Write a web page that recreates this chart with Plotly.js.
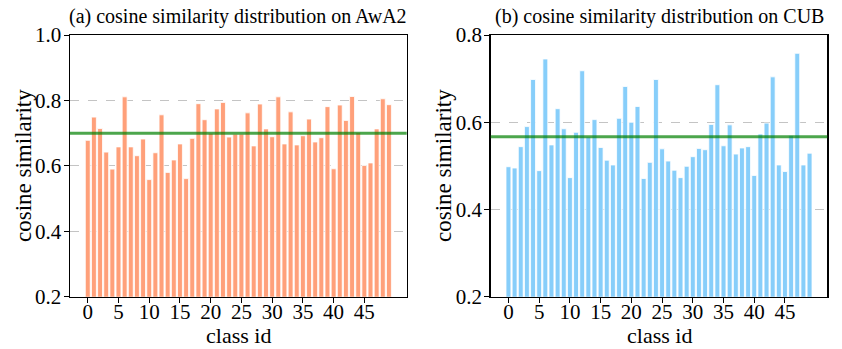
<!DOCTYPE html>
<html>
<head>
<meta charset="utf-8">
<script src="https://cdn.plot.ly/plotly-3.0.1.min.js"></script>
<style>html,body{margin:0;padding:0;background:#fff;}#chart{width:842px;height:349px;}</style>
</head>
<body>
<div id="chart"></div>
<script>
// class ids 0..49
const classIds = [0,1,2,3,4,5,6,7,8,9,10,11,12,13,14,15,16,17,18,19,20,21,22,23,24,25,26,27,28,29,30,31,32,33,34,35,36,37,38,39,40,41,42,43,44,45,46,47,48,49];
const awa2Similarity = [0.678,0.749,0.714,0.642,0.590,0.658,0.811,0.658,0.631,0.682,
  0.558,0.640,0.756,0.580,0.618,0.667,0.561,0.684,0.790,0.741,
  0.700,0.774,0.794,0.688,0.697,0.697,0.762,0.661,0.789,0.713,
  0.689,0.811,0.667,0.765,0.664,0.692,0.743,0.673,0.686,0.781,
  0.591,0.786,0.739,0.812,0.702,0.601,0.609,0.713,0.805,0.787];
const cubSimilarity = [0.498,0.495,0.544,0.590,0.698,0.489,0.745,0.548,0.631,0.585,
  0.473,0.577,0.718,0.566,0.606,0.542,0.513,0.502,0.609,0.682,
  0.600,0.636,0.471,0.508,0.698,0.539,0.511,0.490,0.473,0.499,
  0.521,0.540,0.537,0.595,0.686,0.546,0.594,0.527,0.541,0.544,
  0.478,0.573,0.598,0.704,0.502,0.487,0.570,0.758,0.502,0.529];
const awa2Mean = [0.700];
const cubMean = [0.567];
const xTickVals = [0,5,10,15,20,25,30,35,40,45];
const awa2YTicks = [0.2,0.4,0.6,0.8,1.0];
const cubYTicks = [0.2,0.4,0.6,0.8];
const panelTitles = ["(a) cosine similarity distribution on AwA2", "(b) cosine similarity distribution on CUB"];
const xTitle = "class id";
const yTitle = "cosine similarity";

const FONT = "Liberation Serif";

const traces = [
  {type:'bar', x:classIds, y:awa2Similarity, xaxis:'x', yaxis:'y', width:0.8,
   marker:{color:'#FFA07A', line:{color:'#ffffff', width:0.8}}, showlegend:false, hoverinfo:'x+y'},
  {type:'bar', x:classIds, y:cubSimilarity, xaxis:'x2', yaxis:'y2', width:0.8,
   marker:{color:'#87CEFA', line:{color:'#ffffff', width:0.8}}, showlegend:false, hoverinfo:'x+y'}
];

function xax(domain, anchor){
  return {domain:domain, anchor:anchor, range:[-2.89,51.89], tickmode:'array', tickvals:xTickVals,
    ticks:'outside', ticklen:5, tickcolor:'#000', showgrid:false, zeroline:false,
    showline:true, mirror:true, linecolor:'#000', linewidth:1.5, ticklabelstandoff:-9,
    tickfont:{family:FONT, size:21, color:'#000'}};
}
function yax(domain, anchor, range, ticks){
  return {domain:domain, anchor:anchor, range:range, tickmode:'array', tickvals:ticks,
    ticktext:ticks.map(v=>v.toFixed(1)),
    ticks:'outside', ticklen:5, tickcolor:'#000', showgrid:true,
    gridcolor:'#c4c4c4', griddash:'dash', gridwidth:1, zeroline:false,
    showline:true, mirror:true, linecolor:'#000', linewidth:1.5, ticklabelstandoff:-2,
    tickfont:{family:FONT, size:21, color:'#000'}};
}

const yDom = [1-296.7/349, 1-35/349];
function ann(text, x, y, size, angle, yanchor){
  return {text:text, xref:'paper', yref:'paper', x:x/842, y:1-y/349, xanchor:'center', yanchor:yanchor||'middle',
    showarrow:false, textangle:angle||0, borderpad:0, font:{family:FONT, size:size, color:'#000'}};
}
const layout = {
  width:842, height:349, margin:{l:0,r:0,t:0,b:0}, paper_bgcolor:'#fff', plot_bgcolor:'#fff',
  font:{family:FONT, size:20, color:'#000'},
  bargap:0.2,
  xaxis: xax([70/842, 406.7/842], 'y'),
  yaxis: yax(yDom, 'x', [0.2,1.0], awa2YTicks),
  xaxis2: xax([490.7/842, 827.3/842], 'y2'),
  yaxis2: yax(yDom, 'x2', [0.2,0.8], cubYTicks),
  shapes:[
    {type:'line', xref:'x domain', yref:'y', x0:0, x1:1, y0:awa2Mean[0], y1:awa2Mean[0], line:{color:'rgba(0,128,0,0.7)', width:3}},
    {type:'line', xref:'x2 domain', yref:'y2', x0:0, x1:1, y0:cubMean[0], y1:cubMean[0], line:{color:'rgba(0,128,0,0.7)', width:3}}
  ],
  annotations:[
    ann(panelTitles[0], 238.3, 16, 20),
    ann(panelTitles[1], 659, 16, 20),
    ann(xTitle, 238.3, 349, 22, 0, 'bottom'),
    ann(xTitle, 659, 349, 22, 0, 'bottom'),
    ann(yTitle, 24, 166, 23, -90),
    ann(yTitle, 444, 166, 23, -90)
  ]
};
Plotly.newPlot('chart', traces, layout, {staticPlot:true, displayModeBar:false});
</script>
</body>
</html>
